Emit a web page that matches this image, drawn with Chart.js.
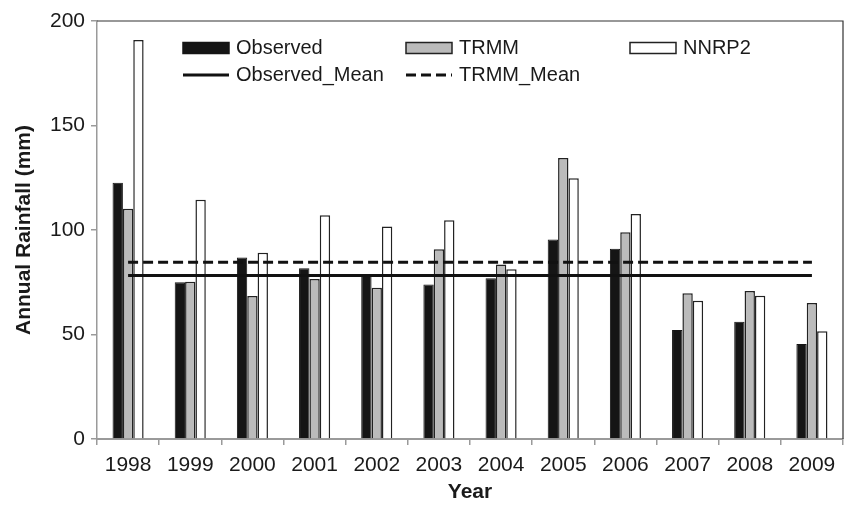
<!DOCTYPE html>
<html>
<head>
<meta charset="utf-8">
<title>Annual Rainfall</title>
<script src="https://cdn.jsdelivr.net/npm/chart.js@4.4.1/dist/chart.umd.min.js"></script>
<style>
  html, body { margin: 0; padding: 0; background: #fff; }
  #wrap { width: 851px; height: 505px; }
</style>
</head>
<body>
<div id="wrap"><canvas id="rainChart" width="851" height="505"></canvas></div>
<script>
// datos
const years = ['1998', '1999', '2000', '2001', '2002', '2003', '2004', '2005', '2006', '2007', '2008', '2009'];
const observed = [122.6, 75.0, 86.8, 81.7, 78.2, 73.9, 76.9, 95.4, 91.0, 52.1, 56.1, 45.4];
const trmm = [110.2, 75.2, 68.4, 76.6, 72.4, 90.8, 83.5, 134.4, 98.9, 69.7, 70.8, 65.1];
const nnrp2 = [190.9, 114.5, 89.1, 107.0, 101.7, 104.7, 81.2, 124.8, 107.6, 66.2, 68.6, 51.5];
const observedMean = [78.2, 78.2, 78.2, 78.2, 78.2, 78.2, 78.2, 78.2, 78.2, 78.2, 78.2, 78.2];
const trmmMean = [84.6, 84.6, 84.6, 84.6, 84.6, 84.6, 84.6, 84.6, 84.6, 84.6, 84.6, 84.6];
const yTicks = [0, 50, 100, 150, 200];

const FONT = '"Liberation Sans", Arial, Helvetica, sans-serif';
const TEXT = '#1a1a1a';
const AXIS = '#9a9a9a';

// leyenda en columnas dentro del area del grafico
const legendCols = [86, 309, 533];
const legendRows = [27, 54];

const columnLegend = {
  id: 'columnLegend',
  afterDraw(chart) {
    const ctx = chart.ctx;
    const area = chart.chartArea;
    ctx.save();
    ctx.font = '20px ' + FONT;
    ctx.textBaseline = 'middle';
    ctx.fillStyle = TEXT;
    chart.data.datasets.forEach((ds, i) => {
      const x = area.left + legendCols[i % 3];
      const y = area.top + legendRows[Math.floor(i / 3)];
      if (ds.type === 'line') {
        ctx.beginPath();
        ctx.setLineDash(ds.borderDash || []);
        ctx.strokeStyle = ds.borderColor;
        ctx.lineWidth = ds.borderWidth;
        ctx.moveTo(x, y);
        ctx.lineTo(x + 46, y);
        ctx.stroke();
        ctx.setLineDash([]);
      } else {
        ctx.fillStyle = ds.backgroundColor;
        ctx.fillRect(x, y - 5.5, 46, 11);
        ctx.strokeStyle = ds.borderColor;
        ctx.lineWidth = 1.5;
        ctx.strokeRect(x, y - 5.5, 46, 11);
      }
      ctx.fillStyle = TEXT;
      ctx.fillText(ds.label, x + 53, y);
    });
    ctx.restore();
  }
};

// marco superior y derecho
const frame = {
  id: 'frame',
  afterDraw(chart) {
    const ctx = chart.ctx;
    const a = chart.chartArea;
    ctx.save();
    ctx.strokeStyle = '#333';
    ctx.lineWidth = 1.2;
    ctx.beginPath();
    ctx.moveTo(a.left, a.top);
    ctx.lineTo(a.right, a.top);
    ctx.lineTo(a.right, a.bottom);
    ctx.stroke();
    ctx.restore();
  }
};

new Chart(document.getElementById('rainChart'), {
  type: 'bar',
  data: {
    labels: years,
    datasets: [
      {
        label: 'Observed',
        data: observed,
        backgroundColor: '#151515',
        borderColor: '#151515',
        borderWidth: 1,
        order: 1
      },
      {
        label: 'TRMM',
        data: trmm,
        backgroundColor: '#bbbbbb',
        borderColor: '#222',
        borderWidth: 1.5,
        order: 1
      },
      {
        label: 'NNRP2',
        data: nnrp2,
        backgroundColor: '#ffffff',
        borderColor: '#222',
        borderWidth: 1.5,
        order: 1
      },
      {
        type: 'line',
        label: 'Observed_Mean',
        data: observedMean,
        borderColor: '#111',
        borderWidth: 3,
        pointRadius: 0,
        fill: false,
        order: 0
      },
      {
        type: 'line',
        label: 'TRMM_Mean',
        data: trmmMean,
        borderColor: '#111',
        borderWidth: 3,
        borderDash: [10, 5],
        pointRadius: 0,
        fill: false,
        order: 0
      }
    ]
  },
  options: {
    responsive: false,
    devicePixelRatio: 1,
    animation: false,
    layout: { padding: { top: 21, right: 8, left: 0, bottom: 0 } },
    datasets: {
      bar: { categoryPercentage: 0.5, barPercentage: 1.0 }
    },
    plugins: {
      legend: { display: false },
      tooltip: { enabled: false }
    },
    scales: {
      x: {
        grid: {
          offset: true,
          drawOnChartArea: false,
          drawTicks: true,
          tickLength: 6,
          color: AXIS,
          lineWidth: 1.5
        },
        border: { color: AXIS, width: 2 },
        ticks: { color: TEXT, font: { family: FONT, size: 21 }, padding: 8, maxRotation: 0 },
        title: {
          display: true,
          text: 'Year',
          color: TEXT,
          font: { family: FONT, size: 21, weight: 'bold' },
          padding: { top: 0, bottom: 0 }
        },
        afterFit(scale) { scale.height = 66; }
      },
      y: {
        min: 0,
        max: 200,
        afterBuildTicks(scale) { scale.ticks = yTicks.map(v => ({ value: v })); },
        grid: {
          drawOnChartArea: false,
          drawTicks: true,
          tickLength: 6,
          color: AXIS,
          lineWidth: 1.5
        },
        border: { color: AXIS, width: 1.5 },
        ticks: { color: TEXT, font: { family: FONT, size: 21 }, padding: 6 },
        title: {
          display: true,
          text: 'Annual Rainfall (mm)',
          color: TEXT,
          font: { family: FONT, size: 21, weight: 'bold' },
          padding: { top: 12, bottom: 0 }
        },
        afterFit(scale) { scale.width = 97; }
      }
    }
  },
  plugins: [columnLegend, frame]
});
</script>
</body>
</html>
